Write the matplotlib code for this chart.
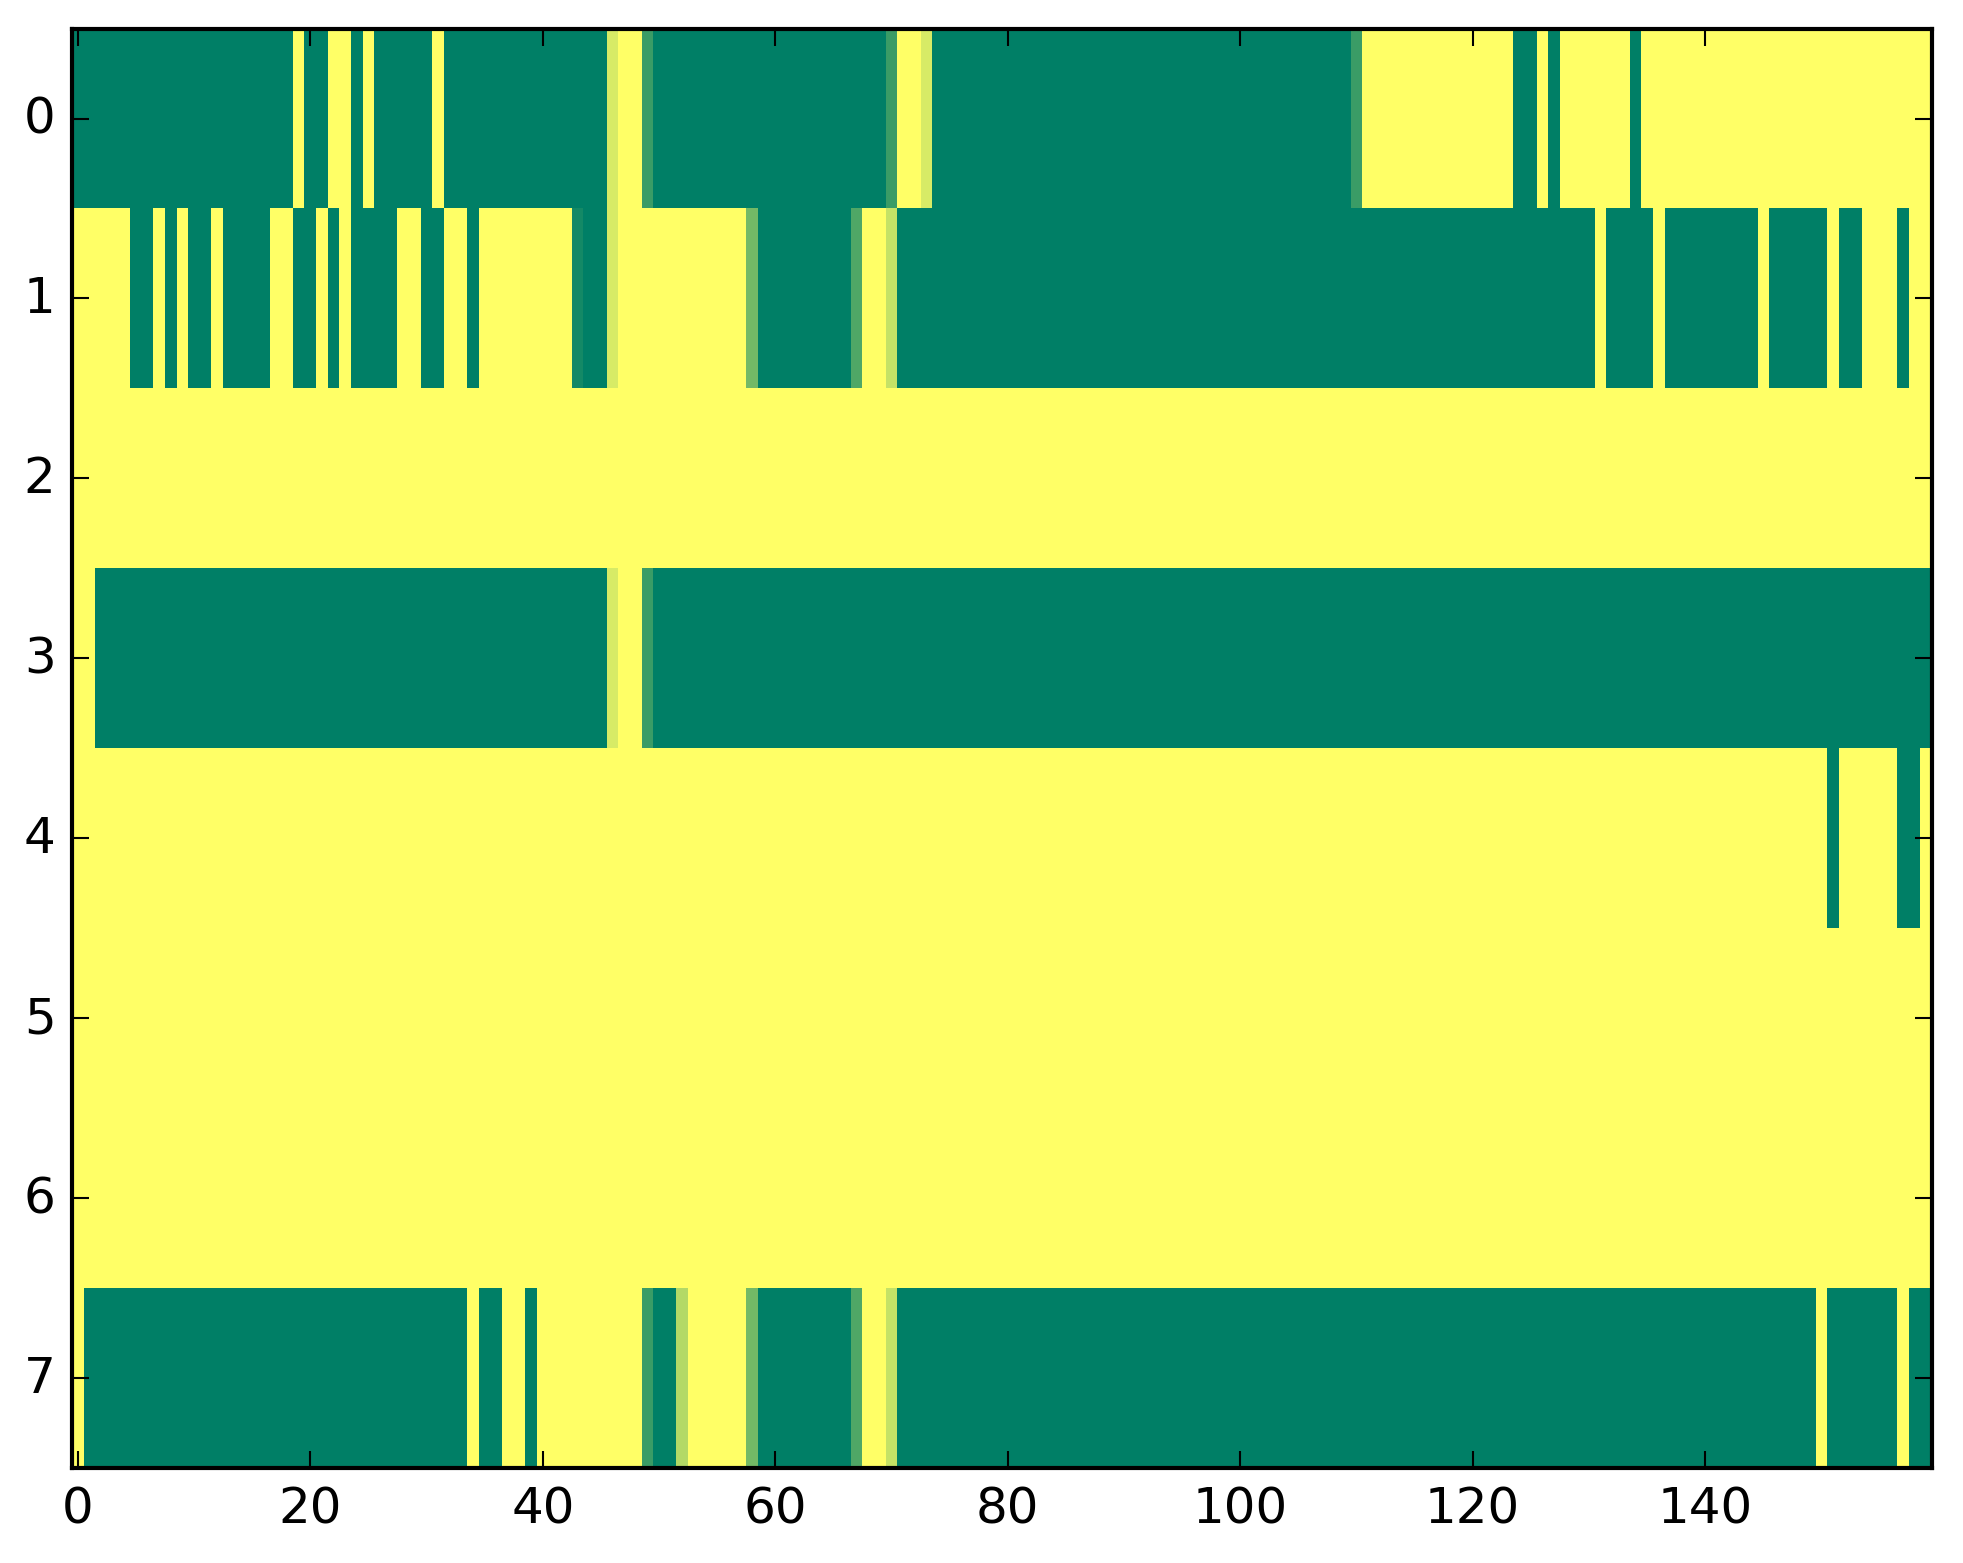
import numpy as np
import matplotlib
matplotlib.use('Agg')
import matplotlib.pyplot as plt

plt.style.use('classic')

# cell values per row (0 = green, 1 = yellow), 160 columns each
row0 = ([0]*19 + [1] + [0]*2 + [1]*2 + [0] + [1] + [0]*5 + [1] + [0]*14 + [0.84]
        + [1]*2 + [0.23] + [0]*20 + [0.23] + [1]*2 + [0.84] + [0]*36 + [0.23]
        + [1]*13 + [0]*2 + [1] + [0] + [1]*6 + [0] + [1]*25)
row1 = ([1]*5 + [0]*2 + [1] + [0] + [1] + [0]*2 + [1] + [0]*4 + [1]*2 + [0]*2
        + [1] + [0] + [1] + [0]*4 + [1]*2 + [0]*2 + [1]*2 + [0] + [1]*8 + [0.08]
        + [0]*2 + [0.84] + [1]*11 + [0.45] + [0]*8 + [0.31] + [1]*2 + [0.77]
        + [0]*60 + [1] + [0]*4 + [1] + [0]*8 + [1] + [0]*5 + [1] + [0]*2
        + [1]*3 + [0] + [1]*2)
row2 = [1]*160
row3 = [1]*2 + [0]*44 + [0.84] + [1]*2 + [0.23] + [0]*110
row4 = [1]*151 + [0] + [1]*5 + [0]*2 + [1]
row5 = [1]*160
row6 = [1]*160
row7 = ([1] + [0]*33 + [1] + [0]*2 + [1]*2 + [0] + [1]*9 + [0.23] + [0]*2
        + [0.7] + [1]*5 + [0.45] + [0]*8 + [0.31] + [1]*2 + [0.77] + [0]*79
        + [1] + [0]*6 + [1] + [0]*2)

data = np.array([row0, row1, row2, row3, row4, row5, row6, row7], dtype=float)

fig = plt.figure(figsize=(1963/300, 1564/300), dpi=300)
ax = fig.add_axes([0.0368, 0.0607, 0.9472, 0.9204])
ax.imshow(data, cmap='summer', vmin=0, vmax=1, interpolation='nearest',
          aspect='auto')
ax.set_xticks(np.arange(0, 160, 20))
ax.set_yticks(np.arange(0, 8))
fig.savefig('out.png', dpi=300, facecolor='white')
